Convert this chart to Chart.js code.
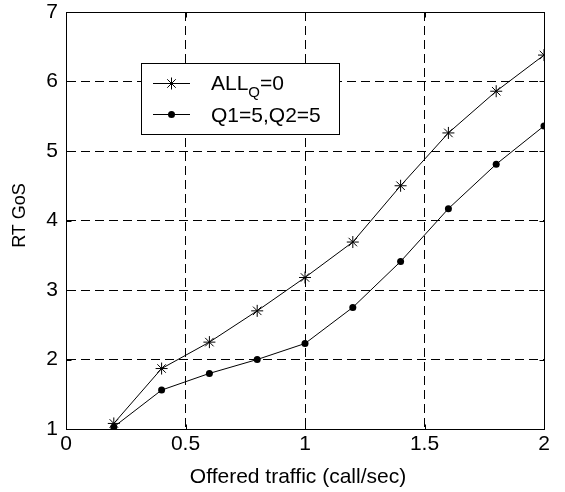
<!DOCTYPE html>
<html>
<head>
<meta charset="utf-8">
<script src="https://cdn.jsdelivr.net/npm/chart.js@4"></script>
<style>
    body { margin: 0; background: #fff; }
    #grafico { display: block; }
</style>
</head>
<body>
<canvas id="grafico" width="565" height="492"></canvas>
<script>
// dados
const trafego = [0.2, 0.4, 0.6, 0.8, 1.0, 1.2, 1.4, 1.6, 1.8, 2.0];
const gosAllQ0 = [1.08, 1.87, 2.25, 2.70, 3.18, 3.69, 4.50, 5.26, 5.86, 6.38];
const gosQ1Q2 = [1.03, 1.56, 1.80, 2.00, 2.23, 2.75, 3.41, 4.17, 4.81, 5.36];
const ticksX = [0, 0.5, 1, 1.5, 2];
const ticksY = [1, 2, 3, 4, 5, 6, 7];
const tituloX = 'Offered traffic (call/sec)';
const tituloY = 'RT GoS';

const fonte = '"Liberation Sans", Arial, sans-serif';

function pontos(valores) {
    let lista = [];
    for (let i = 0; i < trafego.length; i++) {
        lista.push({ x: trafego[i], y: valores[i] });
    }
    return lista;
}

// caixa do gráfico, ticks internos, títulos e legenda no estilo matlab
const molduraLegenda = {
    id: 'molduraLegenda',
    afterDatasetsDraw(chart) {
        const ctx = chart.ctx;
        const a = chart.chartArea;
        const L = Math.round(a.left) + 0.5, R = Math.round(a.right) + 0.5;
        const T = Math.round(a.top) + 0.5, B = Math.round(a.bottom) + 0.5;
        ctx.save();
        ctx.strokeStyle = '#000';
        ctx.lineWidth = 1;
        ctx.setLineDash([]);
        ctx.strokeRect(L, T, R - L, B - T);

        // ticks para dentro
        const tam = 5;
        ctx.beginPath();
        ticksX.forEach(v => {
            const px = Math.round(chart.scales.x.getPixelForValue(v)) + 0.5;
            ctx.moveTo(px, B); ctx.lineTo(px, B - tam);
            ctx.moveTo(px, T); ctx.lineTo(px, T + tam);
        });
        ticksY.forEach(v => {
            const py = Math.round(chart.scales.y.getPixelForValue(v)) + 0.5;
            ctx.moveTo(L, py); ctx.lineTo(L + tam, py);
            ctx.moveTo(R, py); ctx.lineTo(R - tam, py);
        });
        ctx.stroke();

        // títulos dos eixos
        ctx.fillStyle = '#000';
        ctx.font = '21px ' + fonte;
        ctx.textAlign = 'center';
        ctx.textBaseline = 'alphabetic';
        ctx.fillText(tituloX, 298, 483);
        ctx.save();
        ctx.translate(20, 215.5);
        ctx.rotate(-Math.PI / 2);
        ctx.font = '18px ' + fonte;
        ctx.textBaseline = 'middle';
        ctx.fillText(tituloY, 0, 0);
        ctx.restore();

        // legenda
        const bx = 141, by = 63, bw = 198, bh = 71;
        ctx.fillStyle = '#fff';
        ctx.fillRect(bx, by, bw, bh);
        ctx.strokeRect(bx + 0.5, by + 0.5, bw, bh);

        const y1 = 83.5, y2 = 114.5;
        ctx.beginPath();
        ctx.moveTo(153, y1); ctx.lineTo(190, y1);
        ctx.moveTo(153, y2); ctx.lineTo(190, y2);
        ctx.stroke();
        // estrela
        const r = 6, cx = 171.5;
        ctx.beginPath();
        ctx.moveTo(cx, y1 - r); ctx.lineTo(cx, y1 + r);
        ctx.moveTo(cx - r, y1); ctx.lineTo(cx + r, y1);
        const d = r * 0.707;
        ctx.moveTo(cx - d, y1 - d); ctx.lineTo(cx + d, y1 + d);
        ctx.moveTo(cx - d, y1 + d); ctx.lineTo(cx + d, y1 - d);
        ctx.stroke();
        // ponto
        ctx.fillStyle = '#000';
        ctx.beginPath();
        ctx.arc(cx, y2, 3.5, 0, Math.PI * 2);
        ctx.fill();

        ctx.textBaseline = 'alphabetic';
        ctx.textAlign = 'left';
        ctx.font = '21px ' + fonte;
        ctx.fillText('ALL', 211, 90);
        let w = ctx.measureText('ALL').width;
        ctx.font = '15px ' + fonte;
        ctx.fillText('Q', 211 + w, 97);
        let w2 = ctx.measureText('Q').width;
        ctx.font = '21px ' + fonte;
        ctx.fillText('=0', 211 + w + w2, 90);
        ctx.fillText('Q1=5,Q2=5', 211, 122);
        ctx.restore();
    }
};

const dados = {
    datasets: [{
        label: 'ALL_Q=0',
        data: pontos(gosAllQ0),
        borderColor: '#000',
        backgroundColor: '#000',
        borderWidth: 1,
        pointStyle: 'star',
        pointRadius: 6,
        pointBorderWidth: 1,
        tension: 0
    }, {
        label: 'Q1=5,Q2=5',
        data: pontos(gosQ1Q2),
        borderColor: '#000',
        backgroundColor: '#000',
        borderWidth: 1,
        pointStyle: 'circle',
        pointRadius: 3.5,
        pointBorderWidth: 0,
        tension: 0
    }]
};

const grade = {
    color: '#000',
    lineWidth: 1,
    drawTicks: false
};

const config = {
    type: 'line',
    data: dados,
    plugins: [molduraLegenda],
    options: {
        responsive: false,
        animation: false,
        layout: { padding: { top: 12, right: 21, left: 0, bottom: 0 } },
        plugins: {
            legend: { display: false },
            tooltip: { enabled: false }
        },
        scales: {
            x: {
                type: 'linear',
                min: 0,
                max: 2,
                afterFit(scale) {
                    scale.height = 63;
                    scale.paddingLeft = 0;
                    scale.paddingRight = 0;
                },
                afterBuildTicks(scale) { scale.ticks = ticksX.map(v => ({ value: v })); },
                grid: grade,
                border: { display: true, color: '#000', dash: [9, 5] },
                ticks: {
                    color: '#000',
                    font: { family: fonte, size: 21 },
                    padding: 3,
                    maxRotation: 0,
                    callback: v => String(v)
                }
            },
            y: {
                type: 'linear',
                min: 1,
                max: 7,
                afterFit(scale) {
                    scale.width = 66;
                    scale.paddingTop = 0;
                    scale.paddingBottom = 0;
                },
                afterBuildTicks(scale) { scale.ticks = ticksY.map(v => ({ value: v })); },
                grid: grade,
                border: { display: true, color: '#000', dash: [9, 5] },
                ticks: { color: '#000', font: { family: fonte, size: 21 }, padding: 8 }
            }
        }
    }
};

let meuGrafico = new Chart(document.getElementById('grafico'), config);
</script>
</body>
</html>
